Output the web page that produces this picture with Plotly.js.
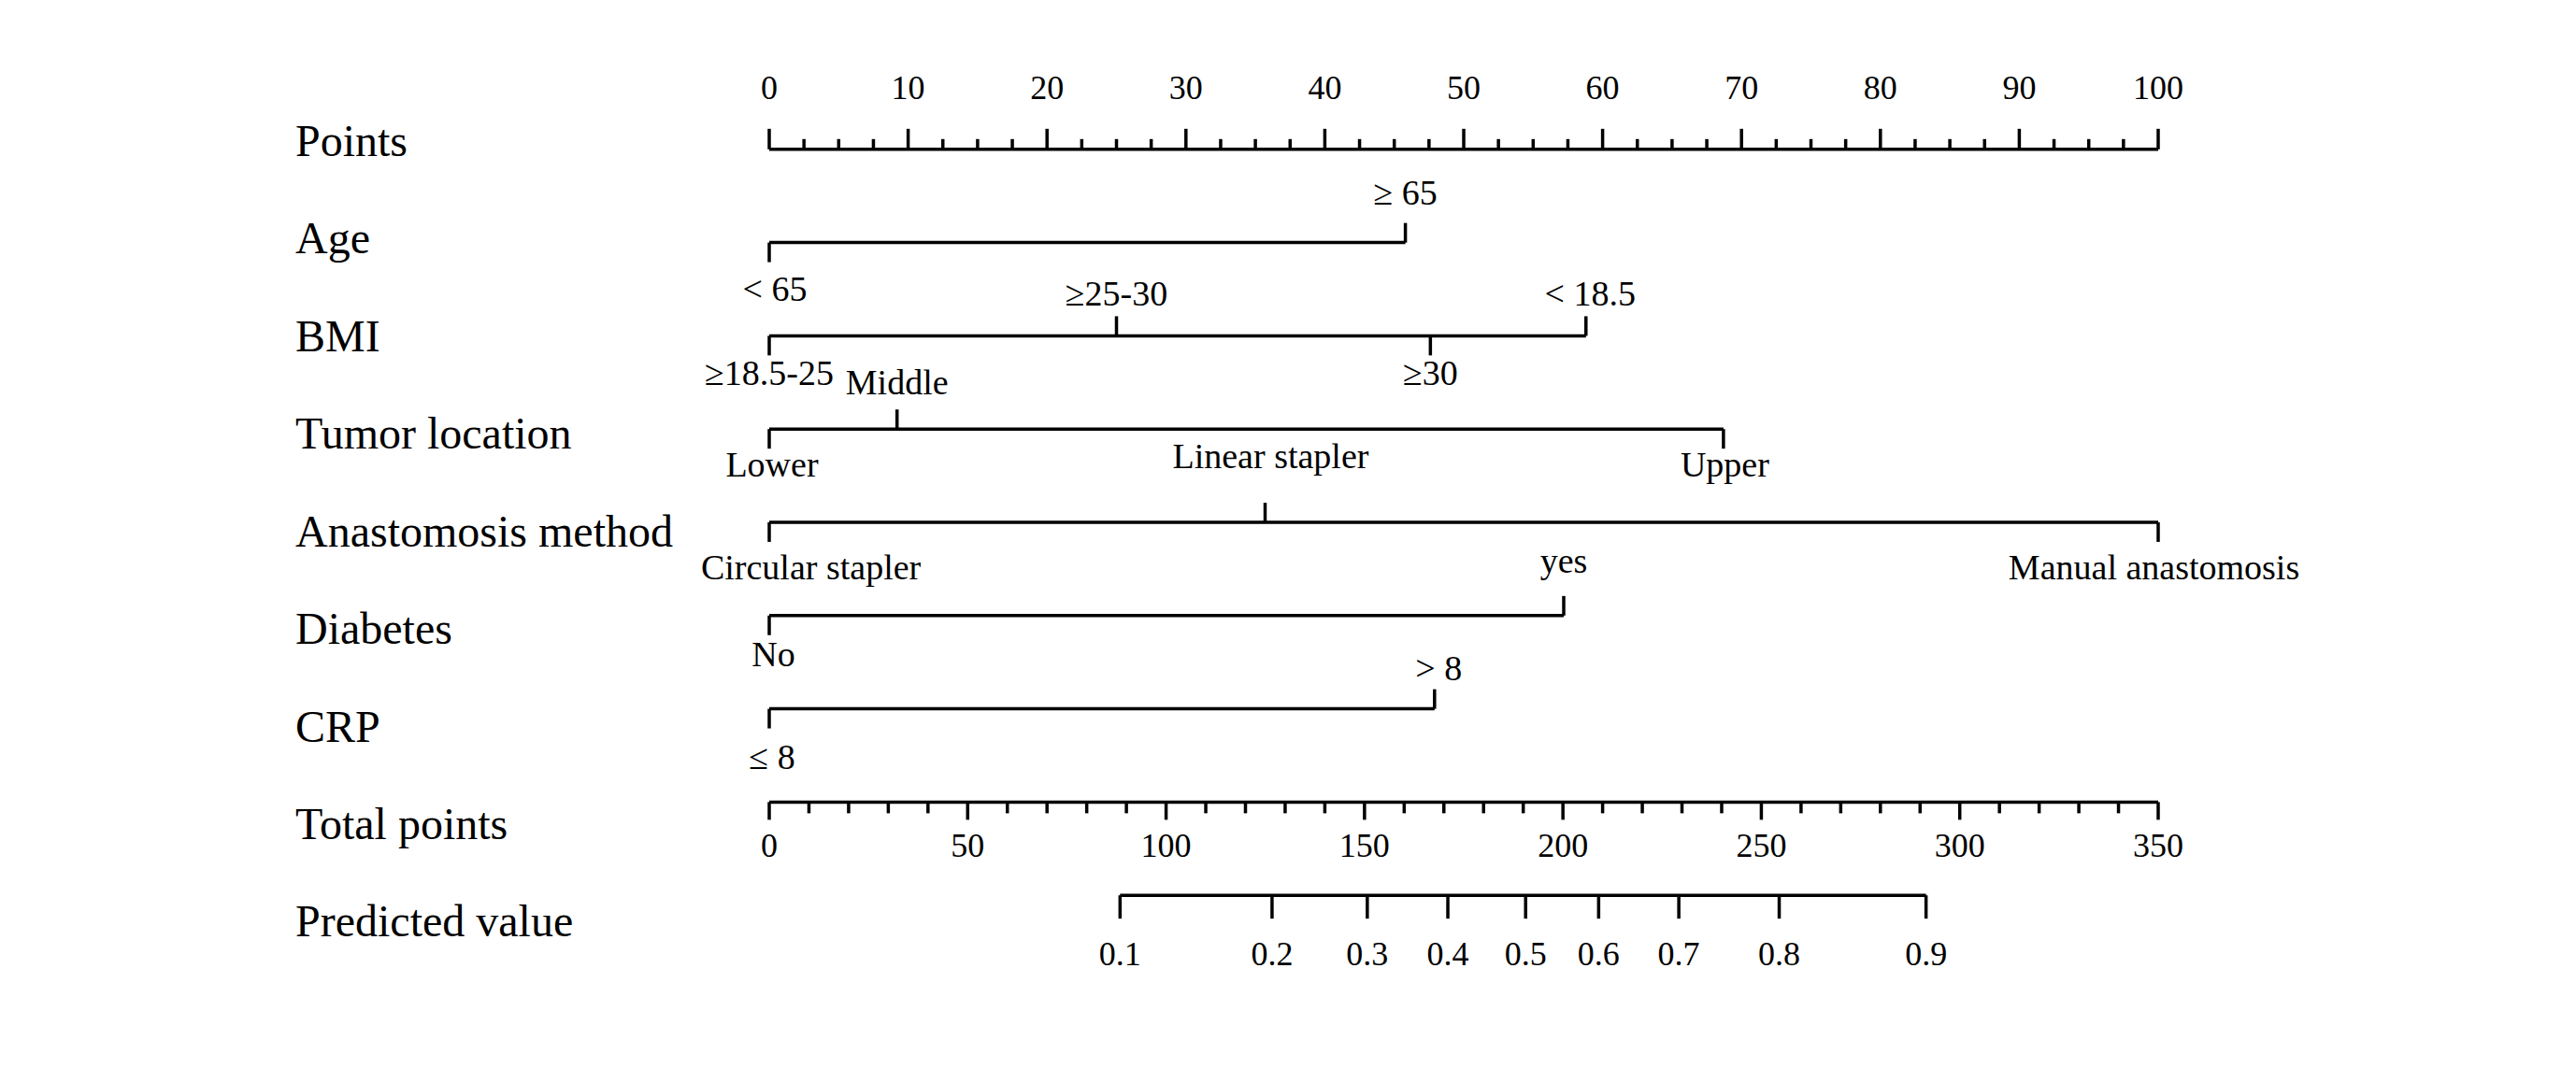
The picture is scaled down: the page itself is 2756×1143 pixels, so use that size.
<!DOCTYPE html>
<html>
<head>
<meta charset="utf-8">
<script src="https://cdn.plot.ly/plotly-3.0.1.min.js"></script>
<style>html,body{margin:0;padding:0;background:#fff;}#chart{width:2756px;height:1143px;}</style>
</head>
<body>
<div id="chart"></div>
<script>
// ---------------- data ----------------
const rowNames = ['Points','Age','BMI','Tumor location','Anastomosis method','Diabetes','CRP','Total points','Predicted value'];

const pointsTicks = [0,10,20,30,40,50,60,70,80,90,100];
const totalTicks = [0,50,100,150,200,250,300,350];
const totalMax = 350;
const predValues = [0.1,0.2,0.3,0.4,0.5,0.6,0.7,0.8,0.9];
const predTotals = [88.4,126.7,150.7,171.0,190.6,209.0,229.2,254.5,291.5];

const ageLevels = ['< 65','≥ 65'];
const agePoints = [0,45.8];
const bmiLevels = ['≥18.5-25','≥25-30','≥30','< 18.5'];
const bmiPoints = [0,25.0,47.6,58.8];
const tumorLevels = ['Lower','Middle','Upper'];
const tumorPoints = [0,9.2,68.7];
const anastLevels = ['Circular stapler','Linear stapler','Manual anastomosis'];
const anastPoints = [0,35.7,100];
const diabetesLevels = ['No','yes'];
const diabetesPoints = [0,57.2];
const crpLevels = ['≤ 8','> 8'];
const crpPoints = [0,47.9];

// ---------------- layout helpers ----------------
const PX0 = 823, PX100 = 2309, W = 2756, H = 1143;
const pxPerPt = (PX100 - PX0) / 100;
const FONT = '"Liberation Serif", "Times New Roman", serif';
const INK = '#000';

const variables = [
  {row:1, levels:ageLevels, pts:agePoints, side:[-1,1], up:-0.50, down:0.53, dx:[0.4,0]},
  {row:2, levels:bmiLevels, pts:bmiPoints, side:[-1,1,-1,1], up:-0.42, down:0.43, dx:[0,0,0,0.3]},
  {row:3, levels:tumorLevels, pts:tumorPoints, side:[-1,1,-1], up:-0.47, down:0.41, dx:[0.2,0,0.1]},
  {row:4, levels:anastLevels, pts:anastPoints, side:[-1,1,-1], up:-0.68, down:0.52, dx:[3.0,0.4,-0.3]},
  {row:5, levels:diabetesLevels, pts:diabetesPoints, side:[-1,1], up:-0.55, down:0.45, dx:[0.3,0]},
  {row:6, levels:crpLevels, pts:crpPoints, side:[-1,1], up:-0.40, down:0.55, dx:[0.2,0.3]}
];

const traces = [];
function segs(xs, ys, width){
  traces.push({type:'scatter', mode:'lines', x:xs, y:ys, line:{color:INK, width:width}, hoverinfo:'skip', showlegend:false, cliponaxis:false});
}
function texts(xs, ys, tx, size, pos){
  traces.push({type:'scatter', mode:'text', x:xs, y:ys, text:tx, textposition:pos||'middle center',
    textfont:{family:FONT, size:size, color:INK}, hoverinfo:'skip', showlegend:false, cliponaxis:false});
}

// Points axis (row 0), ticks pointing up
{
  const xs=[], ys=[];
  xs.push(pointsTicks[0], pointsTicks[pointsTicks.length-1], null); ys.push(0,0,null);
  for (let p=0; p<=100.001; p+=2.5){
    const major = Math.abs(p/10 - Math.round(p/10)) < 1e-6;
    xs.push(p,p,null); ys.push(0, major ? -0.22 : -0.11, null);
  }
  segs(xs, ys, 3.5);
  texts(pointsTicks, pointsTicks.map(()=>-0.63), pointsTicks.map(String), 36);
}

// Variable rows
variables.forEach(v=>{
  const xs=[Math.min(...v.pts), Math.max(...v.pts), null], ys=[v.row, v.row, null];
  const lx=[], ly=[], lt=[];
  v.pts.forEach((p,i)=>{
    const s = v.side[i];
    xs.push(p,p,null); ys.push(v.row, v.row + (s>0 ? -0.21 : 0.21), null);
    lx.push(p + v.dx[i]); ly.push(v.row + (s>0 ? v.up : v.down)); lt.push(v.levels[i]);
  });
  segs(xs, ys, 3.5);
  texts(lx, ly, lt, 38);
});

// Total points axis (row 7), ticks pointing down
{
  const sc = 100 / totalMax;
  const xs=[0, totalMax*sc, null], ys=[7,7,null];
  for (let t=0; t<=totalMax; t+=10){
    const major = t % 50 === 0;
    xs.push(t*sc, t*sc, null); ys.push(7, 7 + (major ? 0.19 : 0.12), null);
  }
  segs(xs, ys, 3.5);
  texts(totalTicks.map(t=>t*sc), totalTicks.map(()=>7.5), totalTicks.map(String), 36);
}

// Predicted value axis (row 8), ticks pointing down
{
  const sc = 100 / totalMax;
  const xp = predTotals.map(t=>t*sc);
  const xs=[xp[0], xp[xp.length-1], null], ys=[8,8,null];
  xp.forEach(x=>{ xs.push(x,x,null); ys.push(8, 8.25, null); });
  segs(xs, ys, 3.5);
  texts(xp, xp.map(()=>8.66), predValues.map(v=>v.toFixed(1)), 36);
}

// Row names
{
  const xL = (316 - PX0) / pxPerPt;
  texts(rowNames.map(()=>xL), rowNames.map((_,k)=>-0.05 + 1.0466*k), rowNames, 48, 'middle right');
}

const layout = {
  width: W, height: H,
  margin: {l:0, r:0, t:60, b:85, pad:0},
  paper_bgcolor: '#fff', plot_bgcolor: '#fff',
  showlegend: false,
  xaxis: {range: [-PX0/pxPerPt, (W-PX0)/pxPerPt], visible:false, showgrid:false, zeroline:false, fixedrange:true},
  yaxis: {range: [9, -1], visible:false, showgrid:false, zeroline:false, fixedrange:true}
};

Plotly.newPlot('chart', traces, layout, {staticPlot:true, displayModeBar:false});
</script>
</body>
</html>
